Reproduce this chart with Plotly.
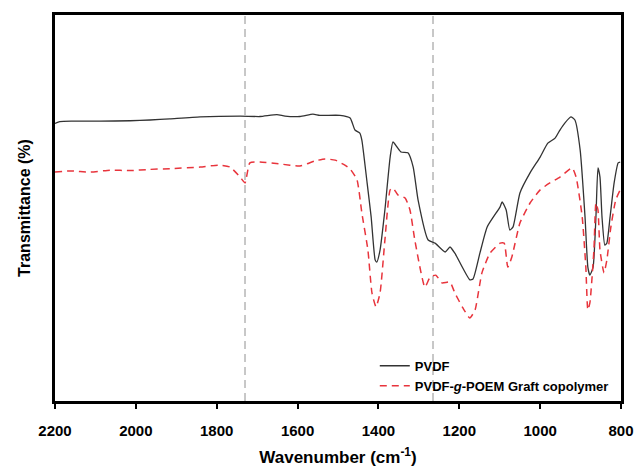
import plotly.graph_objects as go

# PVDF (black solid)
pvdf_wn = [2200, 2188, 2155, 2089, 2014, 1965, 1916, 1841, 1742, 1693, 1651, 1631, 1594, 1562, 1545,
           1495, 1470, 1458, 1446, 1441, 1428, 1418, 1408, 1404, 1396, 1384, 1371, 1364, 1354, 1344,
           1327, 1314, 1302, 1277, 1260, 1235, 1223, 1211, 1174, 1166, 1149, 1131, 1099, 1094, 1084,
           1075, 1067, 1050, 1025, 1000, 981, 963, 951, 939, 924, 914, 901, 889, 882, 877, 869, 862,
           857, 852, 847, 840, 835, 827, 817, 807, 802]
pvdf_t = [71.9, 72.4, 72.5, 72.5, 72.6, 72.8, 73.1, 73.6, 73.8, 73.7, 74.2, 73.8, 73.7, 74.3, 74.0,
          74.0, 73.3, 70.2, 69.4, 67.6, 56.5, 47.7, 36.5, 36.0, 39.1, 49.5, 63.2, 67.1, 65.8, 64.5,
          64.3, 60.6, 52.1, 41.7, 40.9, 38.6, 39.9, 38.3, 31.4, 31.6, 38.3, 45.1, 50.3, 51.6, 49.5,
          44.3, 45.1, 53.9, 59.1, 63.2, 66.8, 68.1, 70.2, 72.0, 73.6, 72.8, 65.0, 47.7, 34.7, 32.6, 34.7, 47.7,
          60.4, 58.0, 47.7, 40.4, 40.9, 47.7, 56.5, 61.7, 61.9]

# PVDF-g-POEM graft copolymer (red dashed)
graft_wn = [2200, 2163, 2113, 2064, 2014, 1965, 1916, 1841, 1797, 1767, 1742, 1730, 1718, 1693, 1643,
            1594, 1557, 1532, 1507, 1483, 1470, 1453, 1441, 1426, 1416, 1406, 1396, 1384, 1371, 1364,
            1352, 1334, 1322, 1310, 1285, 1272, 1258, 1243, 1223, 1211, 1191, 1174, 1161, 1144, 1124,
            1099, 1089, 1080, 1070, 1050, 1025, 1000, 976, 951, 921, 911, 896, 887, 882, 877, 867, 862,
            857, 852, 842, 835, 825, 813, 802]
graft_t = [59.3, 59.6, 59.3, 59.8, 59.7, 60.0, 60.2, 60.6, 61.1, 60.6, 58.0, 56.5, 61.7, 61.9, 61.4,
           60.9, 62.2, 62.7, 62.4, 61.1, 60.1, 57.3, 48.7, 39.1, 28.0, 24.4, 28.0, 41.7, 54.7, 55.2,
           53.4, 52.6, 49.5, 41.7, 29.5, 32.1, 32.6, 30.6, 30.8, 28.0, 24.1, 21.5, 23.6, 33.2, 38.3,
           40.9, 40.9, 34.7, 37.3, 46.1, 51.3, 54.7, 56.5, 58.0, 60.4, 58.0, 47.7, 34.7, 23.6, 25.4, 39.1, 51.3,
           49.5, 39.1, 33.2, 36.5, 45.1, 52.1, 54.7]

ref_lines = [1730, 1265]
x_ticks = [2200, 2000, 1800, 1600, 1400, 1200, 1000, 800]

FONT = "Liberation Sans, Arial, sans-serif"

fig = go.Figure()
fig.add_trace(go.Scatter(x=pvdf_wn, y=pvdf_t, mode="lines", name="<b>PVDF</b>",
                         line=dict(color="#333333", width=1.3, shape="spline", smoothing=0.5)))
fig.add_trace(go.Scatter(x=graft_wn, y=graft_t, mode="lines",
                         name="<b>PVDF-<i>g</i>-POEM Graft copolymer</b>",
                         line=dict(color="#e8343c", width=1.5, dash="7px,5px", shape="spline", smoothing=0.5)))

for xv in ref_lines:
    fig.add_shape(type="line", x0=xv, x1=xv, y0=0, y1=1, xref="x", yref="paper",
                  line=dict(color="#aaaaaa", width=1.3, dash="8px,5px"), layer="below")

fig.update_layout(
    template="none",
    width=634, height=467,
    margin=dict(l=55, r=13, t=15, b=66),
    paper_bgcolor="white", plot_bgcolor="white",
    font=dict(family=FONT, color="black"),
    showlegend=True,
    legend=dict(x=0.565, y=0.13, xanchor="left", yanchor="top",
                bgcolor="rgba(0,0,0,0)", borderwidth=0, font=dict(size=13, family=FONT),
                tracegroupgap=0),
    xaxis=dict(range=[2200, 800], tickvals=x_ticks,
               ticktext=[f"<b>{v}</b>" for v in x_ticks],
               ticks="outside", ticklen=5, tickwidth=1.5, tickcolor="black",
               tickfont=dict(size=15, family=FONT), ticklabelstandoff=9,
               showline=True, linecolor="black", linewidth=3, mirror=True,
               showgrid=False, zeroline=False, automargin=False,
               title=dict(text="<b>Wavenumber (cm<sup>-1</sup>)</b>", font=dict(size=17, family=FONT), standoff=14)),
    yaxis=dict(range=[0, 100], showticklabels=False, ticks="",
               showline=True, linecolor="black", linewidth=3, mirror=True,
               showgrid=False, zeroline=False, automargin=False,
               title=dict(text="<b>Transmittance (%)</b>", font=dict(size=16, family=FONT), standoff=18)),
)

fig.write_html("out.html")
